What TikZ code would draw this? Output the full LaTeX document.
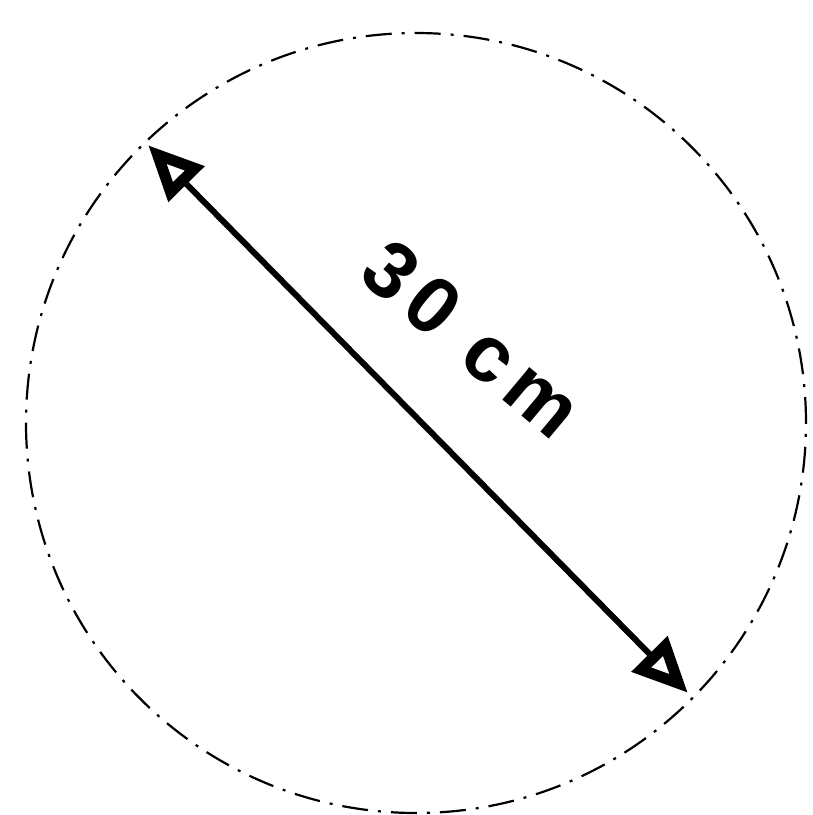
\documentclass[tikz,border=0pt]{standalone}
\usepackage{fontspec}
\setmainfont{Liberation Sans}
\newfontfamily\lblfont[LetterSpace=12]{Liberation Sans}
\usetikzlibrary{arrows.meta}
\begin{document}
\begin{tikzpicture}[x=1pt,y=-1pt,
  outline/.style={draw=black, line width=2.2pt,
    dash pattern=on 26pt off 10pt on 3pt off 10pt},
  dimarrow/.style={line width=6pt,
    {Triangle[open,length=55pt,width=48pt,line width=11pt]}-{Triangle[open,length=55pt,width=48pt,line width=11pt]}},
  dimlabel/.style={font=\lblfont\fontsize{80}{80}\selectfont, inner sep=0pt}]
\useasboundingbox (0,0) rectangle (813,815);
\node[circle, minimum size=780pt, outline, inner sep=0pt] (c) at (416,423) {};
\coordinate (a) at (148,145);
\coordinate (b) at (688,693);
\draw[dimarrow] (a) -- (b);
\node[dimlabel, rotate=-40] (t) at (476,342) {\textbf{30 cm}};
\end{tikzpicture}
\end{document}
